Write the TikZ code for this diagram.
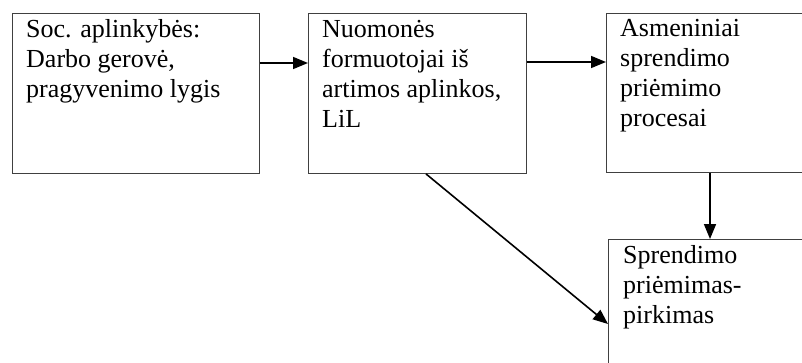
\documentclass[tikz,border=0pt]{standalone}
\usepackage{fontspec}
\setmainfont{Liberation Serif}
\usetikzlibrary{arrows.meta}
\begin{document}
\begin{tikzpicture}[x=1pt,y=-1pt,
  box/.style={draw=black!75, line width=0.9pt, rectangle, inner sep=0pt, anchor=north west},
  lbl/.style={inner sep=0pt, anchor=north west, align=left, font=\fontsize{26}{30}\selectfont},
  arr/.style={draw=black, line width=1.6pt, -{Triangle[length=15pt,width=12pt]}}]
\useasboundingbox (0,0) rectangle (802,362);
\clip (0,0) rectangle (802,362);
\node[box, minimum width=247pt, minimum height=160pt] (b1) at (12,13) {};
\node[box, minimum width=218pt, minimum height=160pt] (b2) at (308,13) {};
\node[box, minimum width=220pt, minimum height=159pt] (b3) at (606,13) {};
\node[box, minimum width=220pt, minimum height=140pt] (b4) at (608,239) {};
\node[lbl] (t1) at ([xshift=14pt,yshift=-3pt]b1.north west) {\strut Soc. aplinkybės:\\Darbo gerovė,\\pragyvenimo lygis};
\node[lbl] (t2) at ([xshift=14pt,yshift=-3pt]b2.north west) {\strut Nuomonės\\formuotojai iš\\artimos aplinkos,\\LiL};
\node[lbl] (t3) at ([xshift=14pt,yshift=-2pt]b3.north west) {\strut Asmeniniai\\sprendimo\\priėmimo\\procesai};
\node[lbl] (t4) at ([xshift=15pt,yshift=-3pt]b4.north west) {\strut Sprendimo\\priėmimas-\\pirkimas};
\draw[arr] ([yshift=-50pt]b1.north east) -- ([yshift=-50pt]b2.north west);
\draw[arr] ([yshift=-49pt]b2.north east) -- ([yshift=-49pt]b3.north west);
\draw[arr] ([xshift=104pt]b3.south west) -- ([xshift=102pt]b4.north west);
\draw[arr] ([xshift=118pt]b2.south west) -- ([yshift=-85pt]b4.north west);
\end{tikzpicture}
\end{document}
